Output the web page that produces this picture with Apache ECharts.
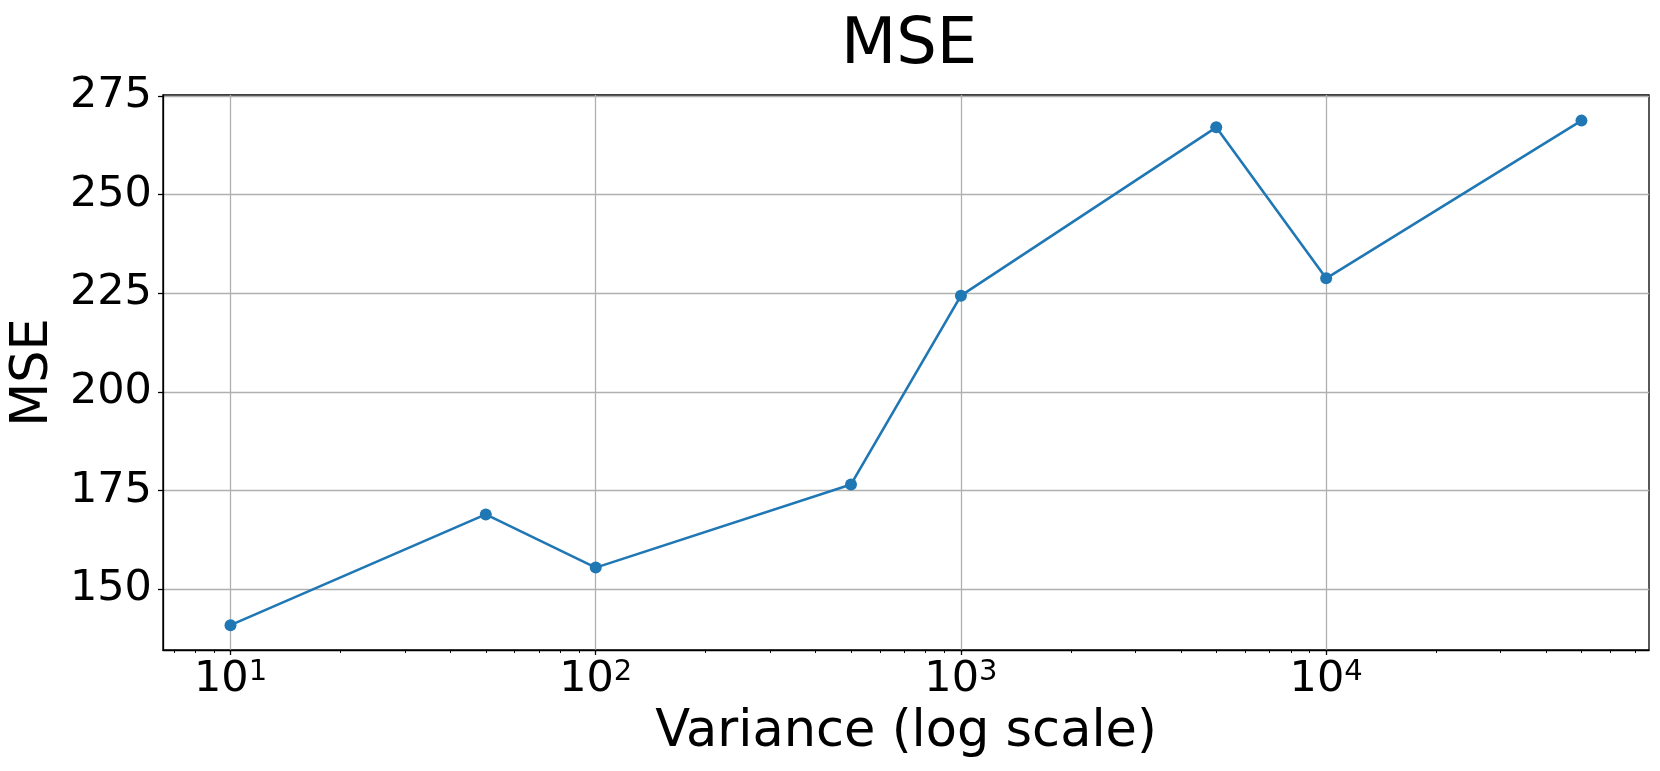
<!DOCTYPE html>
<html><head><meta charset="utf-8">
<script src="https://cdn.jsdelivr.net/npm/echarts@6/dist/echarts.min.js"></script>
<style>html,body{margin:0;padding:0;background:#fff}#c{width:1660px;height:771px}</style>
</head><body><div id="c"></div>
<script>
const variance = [10, 50, 100, 500, 1000, 5000, 10000, 50000];
const mse = [140.8, 168.9, 155.4, 176.5, 224.4, 267.1, 228.8, 268.8];
const xMajorTicks = [10, 100, 1000, 10000];
const xMinorTicks = [7, 8, 9, 20, 30, 40, 50, 60, 70, 80, 90, 200, 300, 400, 500, 600, 700, 800, 900,
  2000, 3000, 4000, 5000, 6000, 7000, 8000, 9000, 20000, 30000, 40000, 50000, 60000, 70000];
const yTicks = [150, 175, 200, 225, 250, 275];
const xRange = [6.533, 76547];
const yRange = [134.5, 275.3];

const FONT = 'DejaVu Sans';
const chart = echarts.init(document.getElementById('c'), null, {renderer: 'canvas'});
chart.setOption({
  animation: false,
  backgroundColor: '#ffffff',
  title: {
    text: 'MSE', left: 836, top: 9,
    textStyle: {fontFamily: FONT, fontSize: 64, fontWeight: 'normal', color: '#000'}
  },
  grid: {left: 161, right: 11, top: 95, bottom: 121, show: true, borderColor: '#000', borderWidth: 1.3, backgroundColor: 'transparent'},
  xAxis: [{
    type: 'log', logBase: 10, min: xRange[0], max: xRange[1], position: 'bottom',
    name: 'Variance (log scale)', nameLocation: 'middle', nameGap: 57,
    nameTextStyle: {fontFamily: FONT, fontSize: 51, color: '#000'},
    axisLine: {show: true, onZero: false, lineStyle: {color: '#000', width: 1.3}},
    axisTick: {show: true, inside: false, length: 5, customValues: xMajorTicks, lineStyle: {color: '#000', width: 1.3}},
    axisLabel: {
      customValues: xMajorTicks, margin: 8,
      formatter: v => '{b|10}{s|' + Math.round(Math.log10(v)) + '}',
      rich: {
        b: {fontFamily: FONT, fontSize: 43, lineHeight: 44, color: '#000'},
        s: {fontFamily: FONT, fontSize: 29, lineHeight: 19, verticalAlign: 'top', color: '#000'}
      }
    },
    splitLine: {show: true, lineStyle: {color: '#b0b0b0', width: 1.3}},
    minorTick: {show: false}
  }, {
    type: 'log', logBase: 10, min: xRange[0], max: xRange[1], position: 'bottom', offset: 0,
    axisLine: {show: false},
    axisTick: {show: true, inside: false, length: 3, customValues: xMinorTicks, lineStyle: {color: '#000', width: 1}},
    axisLabel: {show: false},
    splitLine: {show: false}
  }],
  yAxis: {
    type: 'value', min: yRange[0], max: yRange[1],
    name: 'MSE', nameLocation: 'middle', nameGap: 100,
    nameTextStyle: {fontFamily: FONT, fontSize: 51, color: '#000'},
    axisLine: {show: true, onZero: false, lineStyle: {color: '#000', width: 1.3}},
    axisTick: {show: true, inside: false, length: 5, customValues: yTicks, lineStyle: {color: '#000', width: 1.3}},
    axisLabel: {customValues: yTicks, margin: 11, fontFamily: FONT, fontSize: 43, color: '#000'},
    splitLine: {show: true, lineStyle: {color: '#b0b0b0', width: 1.3}}
  },
  series: [{
    type: 'line', xAxisIndex: 0,
    data: variance.map((v, i) => [v, mse[i]]),
    symbol: 'circle', symbolSize: 12,
    lineStyle: {color: '#1f77b4', width: 2.6},
    itemStyle: {color: '#1f77b4'},
    clip: false
  }]
});
</script></body></html>
